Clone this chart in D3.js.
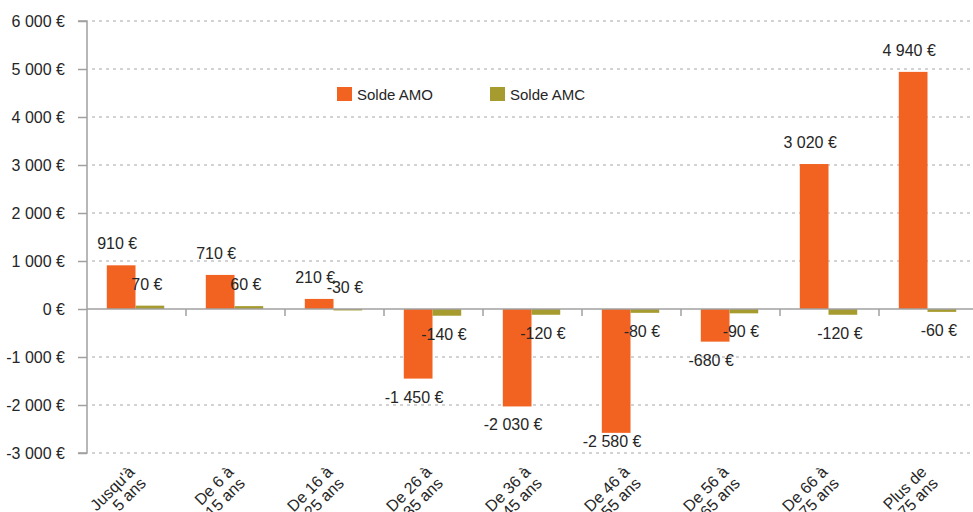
<!doctype html>
<html>
<head>
<meta charset="UTF-8">
<script src="https://d3js.org/d3.v7.min.js"></script>
<style>
  body { margin: 0; background: #fff; }
  text { font-family: "Liberation Sans", Arial, sans-serif; fill: #262626; }
</style>
</head>
<body>
<script>
  // age groups (two lines each) and the two balances
  var categories = [
    ["Jusqu'à", "5 ans"], ["De 6 à", "15 ans"], ["De 16 à", "25 ans"],
    ["De 26 à", "35 ans"], ["De 36 à", "45 ans"], ["De 46 à", "55 ans"],
    ["De 56 à", "65 ans"], ["De 66 à", "75 ans"], ["Plus de", "75 ans"]
  ];
  var soldeAMO = [910, 710, 210, -1450, -2030, -2580, -680, 3020, 4940];
  var soldeAMC = [70, 60, -30, -140, -120, -80, -90, -120, -60];
  var seriesNames = ["Solde AMO", "Solde AMC"];
  var yTicks = [-3000, -2000, -1000, 0, 1000, 2000, 3000, 4000, 5000, 6000];

  var width = 973, height = 512;
  var plotL = 87, plotR = 978, plotT = 21, plotB = 453;
  var colors = { "Solde AMO": "#f26322", "Solde AMC": "#a69b2f" };

  var svg = d3.select('body').append('svg')
    .attr('width', width)
    .attr('height', height);

  var keys = categories.map(c => c.join(' '));
  var x = d3.scaleBand().domain(keys).range([plotL, plotR]);
  var x1 = d3.scaleBand().domain(seriesNames).range([x.bandwidth() * 0.2, x.bandwidth() * 0.78]);
  var y = d3.scaleLinear().domain([-3000, 6000]).range([plotB, plotT]);

  var euro = v => (v < 0 ? '-' : '') + d3.format(',')(Math.abs(v)).replace(/,/g, ' ') + ' €';

  // gridlines
  svg.append('g').selectAll('line')
    .data(yTicks.filter(d => d != 0))
    .enter().append('line')
    .attr('x1', plotL + 5).attr('x2', width)
    .attr('y1', d => y(d)).attr('y2', d => y(d))
    .style('stroke', '#a6a6a6')
    .style('stroke-dasharray', '3,4');

  // y axis
  var yAxis = d3.axisLeft(y).tickValues(yTicks).tickSize(9).tickPadding(13).tickFormat(euro);
  var gy = svg.append('g').attr('transform', 'translate(' + plotL + ',0)').call(yAxis);
  gy.select('.domain').attr('stroke', '#a0a0a0').attr('stroke-width', 1.5).attr('d', 'M-9,' + plotT + 'H0V' + plotB + 'H-9');
  gy.selectAll('.tick line').attr('stroke', '#a0a0a0').attr('stroke-width', 1.5);
  gy.selectAll('.tick text').style('font-size', '16px').style('font-family', '"Liberation Sans", Arial, sans-serif').attr('fill', '#262626');

  // bars
  var rows = keys.map((k, i) => ({ key: k, values: [
    { name: "Solde AMO", v: soldeAMO[i] },
    { name: "Solde AMC", v: soldeAMC[i] }
  ]}));

  var groups = svg.append('g').selectAll('g')
    .data(rows).enter().append('g')
    .attr('transform', d => 'translate(' + x(d.key) + ',0)');

  groups.selectAll('rect')
    .data(d => d.values).enter().append('rect')
    .attr('x', d => x1(d.name))
    .attr('width', x1.bandwidth())
    .attr('y', d => y(Math.max(0, d.v)))
    .attr('height', d => Math.abs(y(d.v) - y(0)))
    .attr('fill', d => colors[d.name]);

  // zero line with category ticks
  var xAxis = d3.axisBottom(x).tickSize(0).tickFormat('');
  var gx = svg.append('g').attr('transform', 'translate(0,' + y(0) + ')').call(xAxis);
  gx.selectAll('.tick').remove();
  gx.select('.domain').attr('stroke', '#a0a0a0').attr('stroke-width', 1.5).attr('d', 'M' + plotL + ',0H' + width);
  gx.selectAll('.sep').data(keys.slice(1)).enter().append('line')
    .attr('x1', d => x(d)).attr('x2', d => x(d))
    .attr('y1', 0).attr('y2', 7)
    .attr('stroke', '#a0a0a0').attr('stroke-width', 1.5);

  // value labels
  groups.selectAll('text.val')
    .data(d => d.values).enter().append('text')
    .attr('class', 'val')
    .style('font-size', '16px')
    .attr('text-anchor', 'middle')
    .attr('x', d => x1(d.name) + x1.bandwidth() / 2 - (d.name == "Solde AMO" ? 4 : 3))
    .attr('y', d => (d.v >= 0 || Math.abs(d.v) < 50) ? y(Math.max(0, d.v)) - 16 : Math.min(y(d.v) + 24, plotB - 6))
    .text(d => euro(d.v));

  // category labels, rotated
  var cl = svg.append('g').selectAll('g')
    .data(categories).enter().append('g')
    .attr('transform', (d, i) => 'translate(' + (x(keys[i]) + x.bandwidth() / 2 - 1) + ',473)rotate(-45)');
  cl.selectAll('text')
    .data(d => d).enter().append('text')
    .style('font-size', '16px')
    .attr('text-anchor', 'end')
    .attr('y', (d, i) => i * 16)
    .text(d => d);

  // legend
  var leg = svg.append('g').selectAll('g')
    .data(seriesNames).enter().append('g')
    .attr('transform', (d, i) => 'translate(' + (337 + i * 153) + ',87)');
  leg.append('rect').attr('width', 15).attr('height', 14).attr('fill', d => colors[d]);
  leg.append('text').attr('x', 20).attr('y', 12.5).style('font-size', '15px').text(d => d);
</script>
</body>
</html>
